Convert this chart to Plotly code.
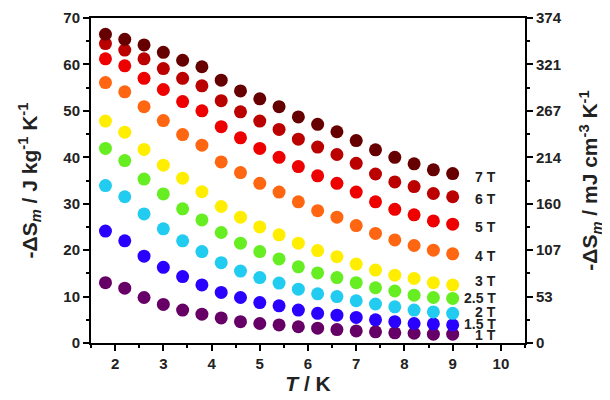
import plotly.graph_objects as go

T = [1.8, 2.2, 2.6, 3.0, 3.4, 3.8, 4.2, 4.6, 5.0, 5.4, 5.8, 6.2, 6.6, 7.0, 7.4, 7.8, 8.2, 8.6, 9.0]

s1T = [13.0, 11.8, 9.8, 8.3, 7.1, 6.2, 5.4, 4.6, 4.2, 3.9, 3.5, 3.2, 2.9, 2.6, 2.4, 2.2, 2.1, 1.9, 1.9]
s15T = [24.1, 22.0, 18.7, 16.3, 14.3, 12.5, 10.9, 9.8, 8.7, 8.0, 7.1, 6.4, 6.0, 5.5, 5.0, 4.6, 4.2, 4.1, 3.9]
s2T = [33.9, 31.5, 27.8, 24.6, 22.0, 19.7, 17.3, 15.5, 14.1, 12.9, 11.6, 10.6, 10.0, 9.1, 8.4, 7.8, 7.1, 6.7, 6.4]
s25T = [41.9, 39.3, 35.3, 32.1, 28.9, 26.5, 23.8, 21.5, 19.7, 18.1, 16.4, 15.1, 14.1, 13.0, 11.9, 11.2, 10.3, 9.8, 9.6]
s3T = [47.8, 45.4, 41.7, 38.3, 35.5, 32.6, 29.4, 27.1, 25.0, 23.3, 21.5, 19.9, 18.6, 17.0, 15.7, 14.6, 13.9, 13.0, 12.5]
s4T = [56.1, 54.1, 50.9, 47.9, 44.9, 42.6, 39.0, 36.7, 34.4, 32.5, 30.4, 28.5, 27.1, 25.3, 23.6, 22.2, 21.0, 20.0, 19.2]
s5T = [61.2, 59.7, 57.0, 54.6, 52.0, 50.0, 46.6, 44.2, 41.9, 40.0, 38.0, 36.0, 34.4, 32.5, 30.4, 28.8, 27.6, 26.3, 25.6]
s6T = [64.5, 63.1, 61.2, 59.1, 57.0, 55.4, 52.2, 49.8, 47.8, 46.0, 43.9, 42.2, 40.6, 38.7, 36.4, 34.7, 33.7, 32.2, 31.5]
s7T = [66.5, 65.4, 64.2, 62.6, 60.9, 59.5, 56.6, 54.3, 52.6, 50.9, 48.7, 47.1, 45.5, 43.6, 41.6, 40.0, 38.6, 37.3, 36.5]

series = [s1T, s15T, s2T, s25T, s3T, s4T, s5T, s6T, s7T]
field_labels = ["1 T", "1.5 T", "2 T", "2.5 T", "3 T", "4 T", "5 T", "6 T", "7 T"]
colors = ["#660066", "#2a00ff", "#22ccf0", "#66ee22", "#ffee00", "#ff6611", "#ee0000", "#bb0000", "#660000"]
label_y = [1.7, 4.1, 6.7, 9.7, 13.4, 18.7, 25.0, 31.0, 35.8]

x_ticks = [2, 3, 4, 5, 6, 7, 8, 9, 10]
y_ticks = [0, 10, 20, 30, 40, 50, 60, 70]
y2_max = 374
y2_ticktext = ["0", "53", "107", "160", "214", "267", "321", "374"]

FONT = "Liberation Sans, Arial, sans-serif"

fig = go.Figure()
for ys, c, name in zip(series, colors, field_labels):
    fig.add_trace(go.Scatter(x=T, y=ys, mode="markers", name=name,
                             marker=dict(size=13, color=c, line=dict(width=0)),
                             showlegend=False))
# empty trace to activate the right axis
fig.add_trace(go.Scatter(x=[], y=[], yaxis="y2", showlegend=False))

for name, ly in zip(field_labels, label_y):
    fig.add_annotation(x=9.95, y=ly, text=f"<b>{name}</b>", showarrow=False,
                       xanchor="right", yanchor="middle",
                       font=dict(family=FONT, size=14, color="#222"))

axis_common = dict(showline=True, linecolor="black", linewidth=2, ticks="outside",
                   tickwidth=2, ticklen=6, tickcolor="black", showgrid=False, zeroline=False,
                   automargin=False,
                   tickfont=dict(family=FONT, size=15, color="#222"))

fig.update_layout(
    width=602, height=392,
    margin=dict(l=83, r=85, t=10, b=57),
    plot_bgcolor="white", paper_bgcolor="white",
    xaxis=dict(range=[1.5, 10.5], tickvals=x_ticks, ticktext=[f"<b>{v}</b>" for v in x_ticks],
               mirror=True,
               minor=dict(dtick=0.5, tick0=1.5, ticks="outside", ticklen=3, tickwidth=2, tickcolor="black"),
               title=dict(text="<b><i>T</i> / K</b>", font=dict(family=FONT, size=21, color="#222"), standoff=4),
               **axis_common),
    yaxis=dict(range=[0, 70], tickvals=y_ticks, ticktext=[f"<b>{v}</b>" for v in y_ticks],
               minor=dict(dtick=5, tick0=0, ticks="outside", ticklen=3, tickwidth=2, tickcolor="black"),
               title=dict(text="<b>-ΔS<sub><i>m</i></sub> / J kg<sup>-1</sup> K<sup>-1</sup></b>",
                          font=dict(family=FONT, size=21, color="#222"), standoff=20),
               **axis_common),
    yaxis2=dict(range=[0, y2_max], overlaying="y", side="right",
                tickvals=[k * y2_max / 7 for k in range(8)],
                ticktext=[f"<b>{t}</b>" for t in y2_ticktext],
                minor=dict(tickvals=[(k + 0.5) * y2_max / 7 for k in range(7)], ticks="outside",
                           ticklen=3, tickwidth=2, tickcolor="black"),
                title=dict(text="<b>-ΔS<sub><i>m</i></sub> / mJ cm<sup>-3</sup> K<sup>-1</sup></b>",
                           font=dict(family=FONT, size=21, color="#222"), standoff=22),
                **axis_common),
)

fig.write_html("out.html")
